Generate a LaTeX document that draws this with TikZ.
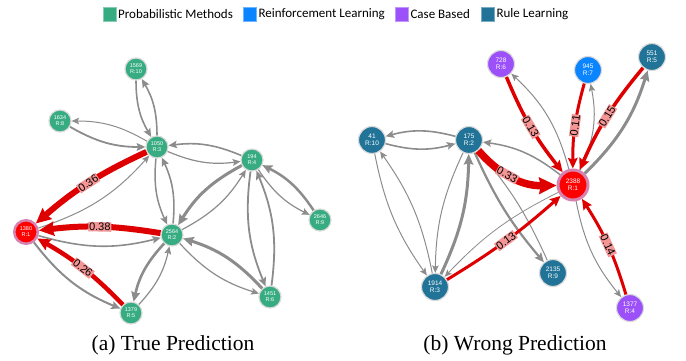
\documentclass[tikz,border=0pt]{standalone}
\usepackage{fontspec}
\setmainfont{Liberation Serif}
\newfontfamily\arialfont{Liberation Sans}
\newfontfamily\calibfont{Carlito}
\usetikzlibrary{positioning,arrows.meta}

\definecolor{probgreen}{RGB}{55,172,130}
\definecolor{reinblue}{RGB}{10,132,255}
\definecolor{casepurple}{RGB}{155,80,250}
\definecolor{ruleteal}{RGB}{33,116,152}
\definecolor{hitred}{RGB}{222,0,0}
\definecolor{linkgray}{RGB}{140,140,140}
\definecolor{ringpink}{RGB}{214,130,175}
\definecolor{rimgray}{RGB}{218,218,218}
\definecolor{tagpink}{RGB}{244,150,150}

\begin{document}
\begin{tikzpicture}[x=1pt,y=1pt,
    item/.style={circle, draw=rimgray, line width=1.2pt, inner sep=0pt,
      minimum size=22pt, text=white, align=center,
      font=\arialfont\fontsize{5.5}{6}\selectfont},
    bigitem/.style={item, minimum size=27pt,
      font=\arialfont\fontsize{6.5}{7}\selectfont},
    target/.style={fill=red, draw=ringpink, line width=2.5pt},
    link/.style={draw=linkgray,
      -{Stealth[length=6pt 1.5, width=5pt 1.5, inset=1.5pt]}},
    hit/.style={draw=hitred,
      -{Stealth[length=6pt 1.5, width=5pt 1.5, inset=1.5pt]}},
    wtag/.style={sloped, fill=tagpink, inner sep=0.8pt, text=black,
      font=\arialfont\fontsize{11}{11}\selectfont},
    legbox/.style={minimum width=13pt, minimum height=14pt, inner sep=0pt,
      line width=0.8pt},
    legtext/.style={inner sep=0pt, font=\calibfont\fontsize{13}{13}\selectfont},
    caption/.style={font=\fontsize{21.5}{24}\selectfont}
  ]
  \useasboundingbox (0,0) rectangle (686,360);

  % legend
  \node[legbox, fill=probgreen, draw=probgreen!60!white] (key1) at (109.5,346) {};
  \node[legtext, right=1.5pt of key1] (lab1) {Probabilistic Methods};
  \node[legbox, fill=reinblue, draw=reinblue!60!white, right=10pt of lab1] (key2) {};
  \node[legtext, right=1.5pt of key2] (lab2) {Reinforcement Learning};
  \node[legbox, fill=casepurple, draw=casepurple!60!white, right=10pt of lab2] (key3) {};
  \node[legtext, right=1.5pt of key3] (lab3) {Case Based};
  \node[legbox, fill=ruleteal, draw=ruleteal!60!white, right=11pt of lab3] (key4) {};
  \node[legtext, right=1.5pt of key4] (lab4) {Rule Learning};

  % (a) true prediction
  \begin{scope}
    \node[item, fill=probgreen] (n1569) at (136,291) {1569\\R:10};
    \node[item, fill=probgreen] (n1634) at (60,239) {1634\\R:8};
    \node[item, fill=probgreen] (n1050) at (157,213) {1050\\R:3};
    \node[item, fill=probgreen] (n194) at (252,200) {194\\R:4};
    \node[item, fill=probgreen] (n2646) at (320,140) {2646\\R:9};
    \node[item, target, minimum size=23.5pt] (n1380) at (26,128) {1380\\R:1};
    \node[item, fill=probgreen] (n2564) at (172,125) {2564\\R:2};
    \node[item, fill=probgreen] (n1451) at (270,63) {1451\\R:6};
    \node[item, fill=probgreen] (n1379) at (131,47) {1379\\R:5};

    \foreach \a/\b/\w in {n1569/n1050/1.6, n1050/n1569/1.6,
        n1634/n1050/1.8, n1050/n1634/1, n194/n1050/1.6, n1050/n194/1.2,
        n1050/n2564/1.5, n2564/n1050/1.6, n1380/n1050/1, n1380/n2564/1.6,
        n1380/n1379/2, n194/n2564/3, n2564/n194/1.2, n2564/n1379/2.6,
        n1379/n2564/1.2, n1451/n2564/3, n2564/n1451/1.2, n194/n1451/1.8,
        n1451/n194/1.8, n2646/n194/2.5, n194/n2646/1.2}
    {
      \draw[link, line width=\w pt] (\a) to[bend right=15] (\b);
    }

    \draw[hit, line width=6pt] (n1050) to[bend right=8] node[wtag] {0.36} (n1380);
    \draw[hit, line width=6pt] (n2564) to[bend right=8] node[wtag] {0.38} (n1380);
    \draw[hit, line width=4.5pt] (n1379) to[bend right=8] node[wtag] {0.26} (n1380);

    \node[caption] (capa) at (173,15) {(a) True Prediction};
  \end{scope}

  % (b) wrong prediction
  \begin{scope}
    \node[bigitem, fill=casepurple] (n728) at (501,296) {728\\R:6};
    \node[bigitem, fill=reinblue] (n945) at (588,290) {945\\R:7};
    \node[bigitem, fill=ruleteal] (n551) at (652,303) {551\\R:5};
    \node[bigitem, fill=ruleteal] (n41) at (372,220) {41\\R:10};
    \node[bigitem, fill=ruleteal] (n175) at (469,220) {175\\R:2};
    \node[bigitem, target, minimum size=30pt, line width=3pt] (n2388) at (573,175) {2388\\R:1};
    \node[bigitem, fill=ruleteal] (n1914) at (435,73) {1914\\R:3};
    \node[bigitem, fill=ruleteal] (n2135) at (553,87) {2135\\R:9};
    \node[bigitem, fill=casepurple] (n1377) at (630,52) {1377\\R:4};

    \foreach \a/\b/\w/\k in {n175/n41/1.6/15, n41/n175/1.6/15,
        n41/n1914/1/12, n1914/n41/1/12, n175/n1914/1/12, n1914/n175/3/12,
        n2388/n175/1.5/15, n175/n2135/2.2/8, n2135/n175/1/8,
        n2388/n1914/0.8/10, n2388/n728/1/16, n2388/n945/1/18,
        n2388/n551/3/14, n2388/n1377/1/14}
    {
      \draw[link, line width=\w pt] (\a) to[bend right=\k] (\b);
    }

    \draw[hit, line width=7.5pt] (n175) to[bend right=25] node[wtag, pos=0.42] {0.33} (n2388);
    \draw[hit, line width=3pt] (n1914) to[bend right=5] node[wtag] {0.13} (n2388);
    \draw[hit, line width=3.5pt] (n728) to[bend right=8] node[wtag] {0.13} (n2388);
    \draw[hit, line width=3pt] (n945) to[bend right=8] node[wtag] {0.11} (n2388);
    \draw[hit, line width=3.5pt] (n551) to[bend right=8] node[wtag] {0.15} (n2388);
    \draw[hit, line width=3pt] (n1377) to[bend right=8] node[wtag] {0.14} (n2388);

    \node[caption] (capb) at (515,15) {(b) Wrong Prediction};
  \end{scope}

\end{tikzpicture}
\end{document}
